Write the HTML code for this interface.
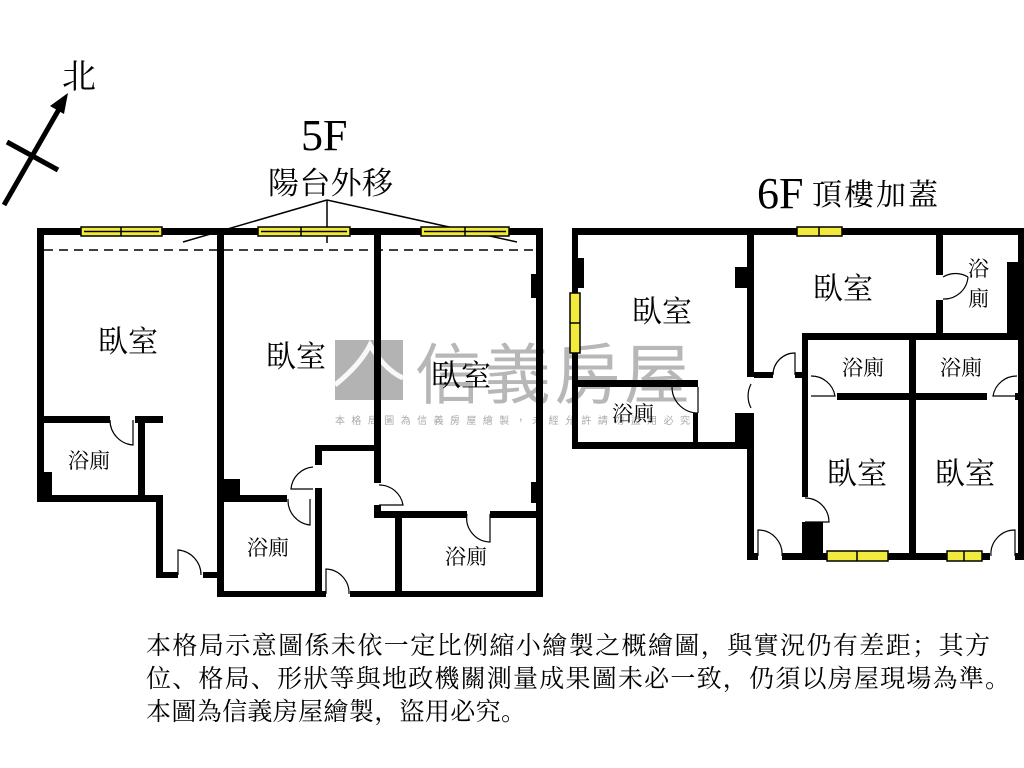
<!DOCTYPE html>
<html><head><meta charset="utf-8"><style>
body{margin:0;background:#fff;}
svg{display:block;}
.t{font-family:"Liberation Serif","Noto Serif CJK SC",serif;fill:#000;}
</style></head><body>
<svg width="1024" height="768" viewBox="0 0 1024 768" xmlns="http://www.w3.org/2000/svg">
<!-- watermark -->
<rect x="335" y="340" width="68" height="60" fill="#999" opacity="0.75"/>
<path d="M335 385 Q360 365 370 345 Q385 370 403 378" stroke="#fff" stroke-width="5" fill="none" opacity="0.9"/>
<text x="415" y="398" textLength="275" style="font-family:'Liberation Sans','Noto Sans CJK TC',sans-serif;font-size:66px;fill:#999;opacity:0.7">信義房屋</text>
<text x="335" y="424" textLength="355" style="font-family:'Liberation Sans','Noto Sans CJK TC',sans-serif;font-size:10px;fill:#aaa">本格局圖為信義房屋繪製，未經允許請勿盜用必究</text>

<!-- north arrow -->
<line x1="4" y1="205" x2="62" y2="104" stroke="#000" stroke-width="5"/>
<polygon points="68,93 50,106 64,114" fill="#000"/>
<line x1="7" y1="142" x2="58" y2="170" stroke="#000" stroke-width="5"/>
<text x="62" y="88" class="t" font-size="34">北</text>

<text x="301" y="150" class="t" font-size="44">5F</text>
<text x="268" y="194" class="t" font-size="31" textLength="125">陽台外移</text>
<line x1="327" y1="200" x2="183" y2="242" stroke="#000" stroke-width="1.5"/>
<line x1="327" y1="200" x2="517" y2="242" stroke="#000" stroke-width="1.5"/>
<line x1="327" y1="200" x2="327" y2="243" stroke="#000" stroke-width="1.5"/>

<text x="757" y="208" class="t" font-size="44">6F</text>
<text x="812" y="205" class="t" font-size="30" textLength="126">頂樓加蓋</text>

<g fill="#000">
<!-- 5F walls -->
<rect x="37" y="228" width="506" height="7"/>
<rect x="37" y="228" width="7" height="274"/>
<rect x="217" y="228" width="7" height="369"/>
<rect x="374" y="228" width="7" height="255"/>
<rect x="536" y="228" width="7" height="369"/>
<rect x="37" y="416" width="73" height="7"/>
<rect x="135" y="416" width="28" height="7"/>
<rect x="138" y="416" width="7" height="86"/>
<rect x="37" y="495" width="126" height="7"/>
<rect x="37" y="472" width="15" height="30"/>
<rect x="156" y="495" width="7" height="83"/>
<rect x="156" y="572" width="22" height="6"/>
<rect x="203" y="572" width="21" height="6"/>
<rect x="217" y="591" width="109" height="6"/>
<rect x="350" y="591" width="193" height="6"/>
<rect x="224" y="495" width="63" height="7"/>
<rect x="224" y="479" width="16" height="23"/>
<rect x="315" y="488" width="7" height="109"/>
<rect x="315" y="445" width="7" height="20"/>
<rect x="315" y="445" width="66" height="6"/>
<rect x="374" y="505" width="7" height="13"/>
<rect x="374" y="511" width="93" height="7"/>
<rect x="490" y="511" width="53" height="7"/>
<rect x="395" y="511" width="7" height="86"/>
<rect x="531" y="274" width="12" height="24"/>
<rect x="531" y="482" width="12" height="21"/>

<!-- 6F walls -->
<rect x="572" y="228" width="451" height="7"/>
<rect x="572" y="228" width="6" height="221"/>
<rect x="572" y="258" width="12" height="30"/>
<rect x="572" y="442" width="181" height="7"/>
<rect x="747" y="228" width="7" height="149"/>
<rect x="747" y="413" width="7" height="147"/>
<rect x="735" y="267" width="19" height="21"/>
<rect x="735" y="413" width="19" height="29"/>
<rect x="754" y="372" width="19" height="6"/>
<rect x="795" y="372" width="7" height="6"/>
<rect x="747" y="553" width="11" height="7"/>
<rect x="782" y="553" width="208" height="7"/>
<rect x="1015" y="553" width="9" height="7"/>
<rect x="572" y="380" width="126" height="7"/>
<rect x="693" y="413" width="5" height="36"/>
<rect x="802" y="333" width="222" height="7"/>
<rect x="802" y="333" width="6" height="164"/>
<rect x="802" y="522" width="21" height="38"/>
<rect x="909" y="333" width="7" height="227"/>
<rect x="837" y="393" width="150" height="7"/>
<rect x="1015" y="393" width="9" height="7"/>
<rect x="936" y="228" width="7" height="47"/>
<rect x="936" y="300" width="7" height="40"/>
<rect x="1007" y="262" width="16" height="71"/>
<rect x="1018" y="228" width="6" height="332"/>
</g>

<!-- dashed balcony -->
<line x1="44" y1="250" x2="536" y2="250" stroke="#000" stroke-width="1.5" stroke-dasharray="9,6"/>

<!-- windows -->
<g fill="#f2ea3c" stroke="#000" stroke-width="1.5">
<rect x="81" y="227" width="81" height="9"/><line x1="121" y1="227" x2="121" y2="236"/><line x1="84" y1="231.5" x2="159" y2="231.5"/>
<rect x="258" y="227" width="92" height="9"/><line x1="301" y1="227" x2="301" y2="236"/><line x1="261" y1="231.5" x2="347" y2="231.5"/>
<rect x="421" y="227" width="88" height="9"/><line x1="465" y1="227" x2="465" y2="236"/><line x1="424" y1="231.5" x2="506" y2="231.5"/>
<rect x="797" y="227" width="45" height="9"/><line x1="819" y1="227" x2="819" y2="236"/>
<rect x="570" y="293" width="10" height="60"/><line x1="570" y1="323" x2="580" y2="323"/>
<rect x="827" y="551" width="61" height="10"/><line x1="857" y1="551" x2="857" y2="561"/>
<rect x="947" y="551" width="35" height="10"/><line x1="964" y1="551" x2="964" y2="561"/>
</g>

<!-- door arcs -->
<g fill="none" stroke="#000" stroke-width="1.2">
<path d="M110 420 A25 25 0 0 0 133 445 L133 420"/>
<path d="M178 575 L178 550 A25 25 0 0 1 201 575"/>
<path d="M313 467 A24 24 0 0 0 291 489 L313 489"/>
<path d="M288 499 A25 25 0 0 0 310 525 L310 499"/>
<path d="M326 594 L326 569 A24 24 0 0 1 349 594"/>
<path d="M379 485 A24 24 0 0 1 403 505 L379 505"/>
<path d="M467 514 A24 24 0 0 0 490 542 L490 514"/>
<path d="M943 277 A24 24 0 0 1 968 277 M943 299 A24 24 0 0 0 968 277"/>
<path d="M698 387 L698 413 M698 413 A26 26 0 0 1 672 387"/>
<path d="M751 384 A26 26 0 0 0 751 408"/>
<path d="M773 375 A22 22 0 0 1 795 353 L795 375"/>
<path d="M811 376 A24 24 0 0 1 835 396 L811 396"/>
<path d="M1017 376 A24 24 0 0 0 993 396 L1017 396"/>
<path d="M805 498 A24 24 0 0 1 829 522 L805 522"/>
<path d="M758 556 L758 530 A24 24 0 0 1 782 556"/>
<path d="M1015 556 L1015 530 A24 24 0 0 0 991 556"/>
</g>

<!-- room labels -->
<g class="t" font-size="30">
<text x="98" y="352">臥室</text>
<text x="266" y="367">臥室</text>
<text x="431" y="386">臥室</text>
<text x="632" y="322">臥室</text>
<text x="813" y="299">臥室</text>
<text x="827" y="484">臥室</text>
<text x="935" y="484">臥室</text>
</g>
<g class="t" font-size="21">
<text x="68" y="468">浴廁</text>
<text x="247" y="555">浴廁</text>
<text x="445" y="564">浴廁</text>
<text x="612" y="421">浴廁</text>
<text x="842" y="375">浴廁</text>
<text x="940" y="375">浴廁</text>
<text x="968" y="276">浴</text>
<text x="968" y="306">廁</text>
</g>

<!-- disclaimer -->
<g class="t" font-size="25">
<text x="146" y="654" textLength="844" lengthAdjust="spacing">本格局示意圖係未依一定比例縮小繪製之概繪圖，與實況仍有差距；其方</text>
<text x="146" y="687" textLength="864" lengthAdjust="spacing">位、格局、形狀等與地政機關測量成果圖未必一致，仍須以房屋現場為準。</text>
<text x="146" y="720" textLength="380" lengthAdjust="spacing">本圖為信義房屋繪製，盜用必究。</text>
</g>
</svg>
</body></html>
